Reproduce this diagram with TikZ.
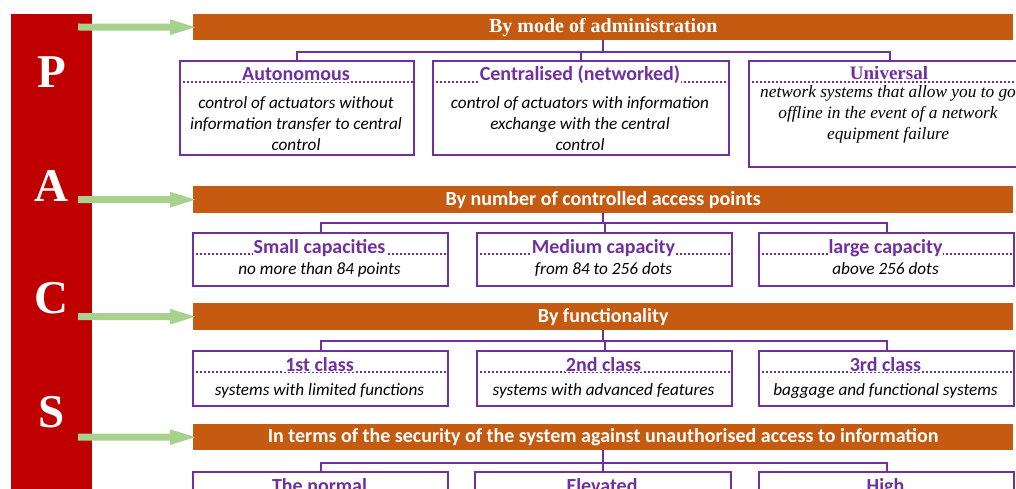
\documentclass[tikz,border=0pt]{standalone}
\usepackage{fontspec}
\setmainfont{Carlito}
\newfontfamily\tnr{Liberation Serif}
\usetikzlibrary{arrows.meta}
\definecolor{cred}{HTML}{C00000}
\definecolor{corange}{HTML}{C55A11}
\definecolor{cgreen}{HTML}{A9D18E}
\definecolor{cpurple}{HTML}{7030A0}
\begin{document}
\begin{tikzpicture}[x=1pt,y=-1pt,
  bar/.style={fill=corange, draw=none, minimum width=820pt, anchor=north west, inner sep=0pt, text=white, font=\fontsize{20}{22}\selectfont\bfseries},
  cbox/.style={draw=cpurple, line width=2pt, fill=white, anchor=north west, inner sep=0pt},
  tree/.style={draw=cpurple, line width=2pt},
  dots/.style={draw=cpurple, line width=2pt, dash pattern=on 2pt off 2pt},
  ctitle/.style={fill=white, inner sep=1pt, text=cpurple, font=\fontsize{20}{22}\selectfont\bfseries, anchor=base},
  stitle/.style={fill=white, inner sep=1pt, text=cpurple, font=\fontsize{19}{22}\selectfont\tnr\bfseries, anchor=base},
  cbody/.style={inner sep=0pt, font=\fontsize{17.2}{21}\selectfont\itshape, anchor=base},
  sbody/.style={inner sep=0pt, font=\fontsize{17.3}{21}\selectfont\tnr\itshape, anchor=base},
  letter/.style={text=white, inner sep=0pt, font=\fontsize{47}{47}\selectfont\tnr\bfseries},
  garrow/.style={draw=cgreen, line width=7pt, -{Triangle[length=30pt,width=13pt]}}
]
\useasboundingbox (0,0) rectangle (1016,489);
\clip (0,0) rectangle (1016,489);

% red side bar
\node[fill=cred, minimum width=81pt, minimum height=490pt, anchor=north west, inner sep=0pt] (redbar) at (11,14) {};
\node[letter] (lP) at (51.5,72) {P};
\node[letter] (lA) at (51.5,186) {A};
\node[letter] (lC) at (51.5,298) {C};
\node[letter] (lS) at (51.5,412) {S};

% orange bars
\node[bar, minimum height=26pt, font=\fontsize{20}{22}\selectfont\tnr\bfseries] (bar1) at (193,14) {By mode of administration};
\node[bar, minimum height=27pt] (bar2) at (193,186) {By number of controlled access points};
\node[bar, minimum height=27pt] (bar3) at (193,303) {By functionality};
\node[bar, minimum height=26pt] (bar4) at (193,424) {In terms of the security of the system against unauthorised access to information};

% green arrows
\coordinate (sP) at (78,27);
\coordinate (sA) at (78,199.5);
\coordinate (sC) at (78,316.5);
\coordinate (sS) at (78,437);
\draw[garrow] (sP) -- ([xshift=7pt]bar1.west);
\draw[garrow] (sA) -- ([xshift=7pt]bar2.west);
\draw[garrow] (sC) -- ([xshift=7pt]bar3.west);
\draw[garrow] (sS) -- ([xshift=7pt]bar4.west);

% row 1 boxes
\node[cbox, minimum width=234pt, minimum height=94pt] (b11) at (179,60) {};
\node[cbox, minimum width=296pt, minimum height=94pt] (b12) at (432,60) {};
\node[cbox, minimum width=282pt, minimum height=106pt] (b13) at (748,60) {};
\draw[tree] (bar1.south) -- ++(0,12) -| (b11.north);
\draw[tree] (bar1.south) -- ++(0,12) -| (b12.north);
\draw[tree] (bar1.south) -- ++(0,12) -| (b13.north);
\foreach \b in {b11,b12,b13}{
  \draw[dots] ([yshift=-22pt]\b.north west) -- ([yshift=-22pt]\b.north east);
}
\node[ctitle] (t11) at (296,81) {Autonomous};
\node[ctitle] (t12) at (580,81) {Centralised (networked)};
\node[stitle] (t13) at (889,80) {Universal};
\node[cbody] (d11a) at (296,109) {control of actuators without};
\node[cbody] (d11b) at (296,130) {information transfer to central};
\node[cbody] (d11c) at (296,151) {control};
\node[cbody] (d12a) at (580,109) {control of actuators with information};
\node[cbody] (d12b) at (580,130) {exchange with the central};
\node[cbody] (d12c) at (580,151) {control};
\node[sbody] (d13a) at (888,98) {network systems that allow you to go};
\node[sbody] (d13b) at (888,119) {offline in the event of a network};
\node[sbody] (d13c) at (888,140) {equipment failure};

% row 2
\node[cbox, minimum width=255pt, minimum height=53pt] (b21) at (192,232) {};
\node[cbox, minimum width=255pt, minimum height=53pt] (b22) at (476,232) {};
\node[cbox, minimum width=255pt, minimum height=53pt] (b23) at (758,232) {};
\draw[tree] (bar2.south) -- ++(0,10) -| (b21.north);
\draw[tree] (bar2.south) -- ++(0,10) -| (b22.north);
\draw[tree] (bar2.south) -- ++(0,10) -| (b23.north);
\foreach \b in {b21,b22,b23}{
  \draw[dots] ([yshift=-22pt]\b.north west) -- ([yshift=-22pt]\b.north east);
}
\node[ctitle] (t21) at (319.5,253) {Small capacities};
\node[ctitle] (t22) at (603.5,253) {Medium capacity};
\node[ctitle] (t23) at (885.5,253) {large capacity};
\node[cbody] (d21) at (319.5,274) {no more than 84 points};
\node[cbody] (d22) at (603.5,274) {from 84 to 256 dots};
\node[cbody] (d23) at (885.5,274) {above 256 dots};

% row 3
\node[cbox, minimum width=255pt, minimum height=55pt] (b31) at (192,350) {};
\node[cbox, minimum width=255pt, minimum height=55pt] (b32) at (476,350) {};
\node[cbox, minimum width=255pt, minimum height=55pt] (b33) at (758,350) {};
\draw[tree] (bar3.south) -- ++(0,11) -| (b31.north);
\draw[tree] (bar3.south) -- ++(0,11) -| (b32.north);
\draw[tree] (bar3.south) -- ++(0,11) -| (b33.north);
\foreach \b in {b31,b32,b33}{
  \draw[dots] ([yshift=-22pt]\b.north west) -- ([yshift=-22pt]\b.north east);
}
\node[ctitle] (t31) at (319.5,371) {1st class};
\node[ctitle] (t32) at (603.5,371) {2nd class};
\node[ctitle] (t33) at (885.5,371) {3rd class};
\node[cbody] (d31) at (319.5,395) {systems with limited functions};
\node[cbody] (d32) at (603.5,395) {systems with advanced features};
\node[cbody] (d33) at (885.5,395) {baggage and functional systems};

% row 4
\node[cbox, minimum width=255pt, minimum height=45pt] (b41) at (192,471) {};
\node[cbox, minimum width=256pt, minimum height=45pt] (b42) at (474,471) {};
\node[cbox, minimum width=255pt, minimum height=45pt] (b43) at (758,471) {};
\draw[tree] (bar4.south) -- ++(0,13) -| (b41.north);
\draw[tree] (bar4.south) -- ++(0,13) -| (b42.north);
\draw[tree] (bar4.south) -- ++(0,13) -| (b43.north);
\node[ctitle] (t41) at (319.5,492) {The normal};
\node[ctitle] (t42) at (602,492) {Elevated};
\node[ctitle] (t43) at (885.5,492) {High};
\end{tikzpicture}
\end{document}
